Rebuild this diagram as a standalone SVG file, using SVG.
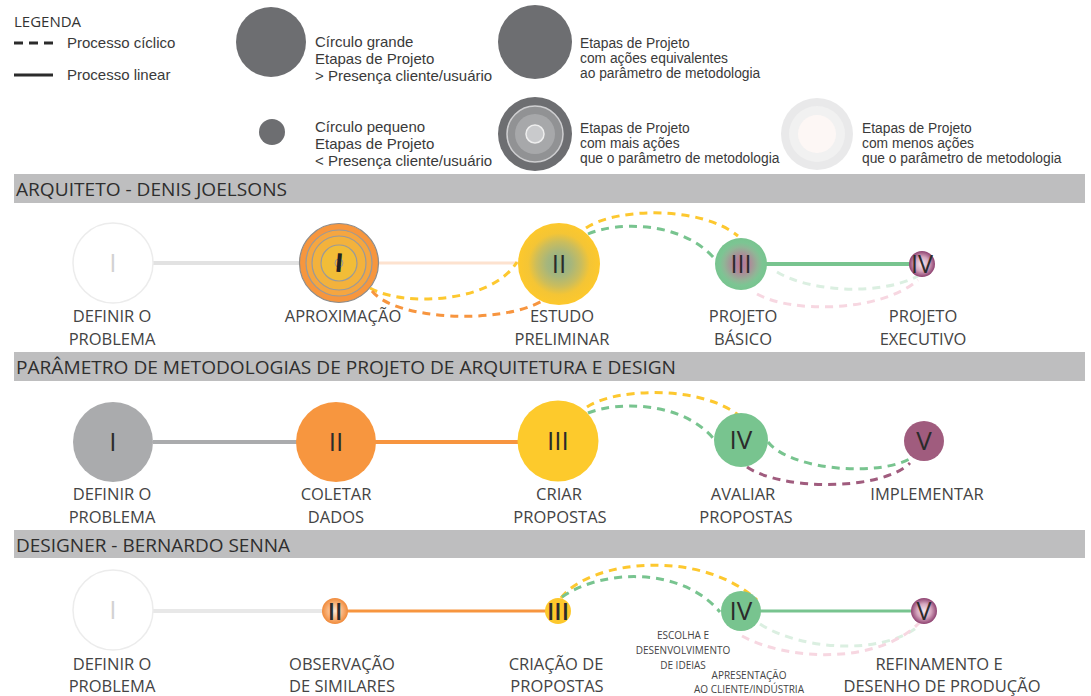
<svg xmlns="http://www.w3.org/2000/svg" width="1091" height="696" viewBox="0 0 1091 696">
<defs>
<style>
.leg{font-family:"Liberation Sans",Arial,sans-serif;font-size:15px;fill:#3a3a3a}
.legs{font-family:"Liberation Sans",Arial,sans-serif;font-size:13.8px;fill:#3a3a3a}
.hdr{font-family:"Open Sans",sans-serif;font-size:18px;fill:#2e2e2e}
.lbl{font-family:"Open Sans",sans-serif;font-size:16.5px;fill:#444;text-anchor:middle}
.sm{font-family:"Open Sans",sans-serif;font-size:10px;fill:#444;text-anchor:middle}
.num{font-family:"Open Sans",sans-serif;fill:#2b2b2b;text-anchor:middle}
.dash{fill:none;stroke-width:3;stroke-dasharray:8 6}
.bar{fill:#bebebf}
</style>
<radialGradient id="gII1"><stop offset="0" stop-color="#8fb387"/><stop offset="0.3" stop-color="#a6b67c"/><stop offset="0.55" stop-color="#cbbd5c"/><stop offset="0.75" stop-color="#f4c535"/><stop offset="1" stop-color="#fdc82c"/></radialGradient>
<radialGradient id="gIII1"><stop offset="0" stop-color="#b87799"/><stop offset="0.35" stop-color="#ac8c98"/><stop offset="0.65" stop-color="#90b696"/><stop offset="0.82" stop-color="#7cc593"/><stop offset="1" stop-color="#78c48f"/></radialGradient>
<radialGradient id="gPur"><stop offset="0" stop-color="#f6e8ef"/><stop offset="0.55" stop-color="#d5a6be"/><stop offset="1" stop-color="#8e4170"/></radialGradient>
<radialGradient id="gOr"><stop offset="0" stop-color="#fce6d3"/><stop offset="0.6" stop-color="#f8b27a"/><stop offset="1" stop-color="#f08a3a"/></radialGradient>
</defs>
<rect width="1091" height="696" fill="#ffffff"/>

<g id="legend">
<text x="14" y="27" style="font-family:'Open Sans',sans-serif;font-size:15px;fill:#333">LEGENDA</text>
<line x1="14" y1="43" x2="53" y2="43" stroke="#2b2b2b" stroke-width="3" stroke-dasharray="9 6"/>
<text class="leg" x="67" y="48">Processo cíclico</text>
<line x1="14" y1="75" x2="53" y2="75" stroke="#2b2b2b" stroke-width="3"/>
<text class="leg" x="67" y="80">Processo linear</text>
<circle cx="271" cy="42" r="35" fill="#6d6e71"/>
<text class="leg" x="315" y="47">Círculo grande</text>
<text class="leg" x="315" y="64">Etapas de Projeto</text>
<text class="leg" x="315" y="81">&gt; Presença cliente/usuário</text>
<circle cx="272" cy="132" r="13" fill="#6d6e71"/>
<text class="leg" x="315" y="132">Círculo pequeno</text>
<text class="leg" x="315" y="149">Etapas de Projeto</text>
<text class="leg" x="315" y="166">&lt; Presença cliente/usuário</text>
<circle cx="535" cy="42" r="37" fill="#6d6e71"/>
<text class="legs" x="580" y="48">Etapas de Projeto</text>
<text class="legs" x="580" y="63">com ações equivalentes</text>
<text class="legs" x="580" y="78">ao parâmetro de metodologia</text>
<circle cx="535" cy="134" r="37" fill="#6d6e71"/>
<circle cx="535" cy="134" r="28" fill="#919294" stroke="#cfcfd1" stroke-width="1.5"/>
<circle cx="535" cy="134" r="20" fill="#a7a8aa"/>
<circle cx="535" cy="134" r="9" fill="#c9cacc" stroke="#eeeeee" stroke-width="1.5"/>
<text class="legs" x="580" y="133">Etapas de Projeto</text>
<text class="legs" x="580" y="148">com mais ações</text>
<text class="legs" x="580" y="163">que o parâmetro de metodologia</text>
<circle cx="817" cy="134" r="36" fill="#e9e9ea"/>
<circle cx="817" cy="134" r="28" fill="#f1f1f1"/>
<circle cx="817" cy="134" r="19" fill="#fdf7f5"/>
<text class="legs" x="862" y="133">Etapas de Projeto</text>
<text class="legs" x="862" y="148">com menos ações</text>
<text class="legs" x="862" y="163">que o parâmetro de metodologia</text>
</g>

<g id="headers">
<rect class="bar" x="14" y="174" width="1071" height="29"/>
<text class="hdr" x="16" y="196" textLength="271" lengthAdjust="spacingAndGlyphs">ARQUITETO - DENIS JOELSONS</text>
<rect class="bar" x="14" y="352" width="1071" height="29"/>
<text class="hdr" x="16" y="374" textLength="660" lengthAdjust="spacingAndGlyphs">PARÂMETRO DE METODOLOGIAS DE PROJETO DE ARQUITETURA E DESIGN</text>
<rect class="bar" x="14" y="530" width="1071" height="28"/>
<text class="hdr" x="16" y="552" textLength="274" lengthAdjust="spacingAndGlyphs">DESIGNER - BERNARDO SENNA</text>
</g>

<g id="connectors">
<line x1="153" y1="263" x2="300" y2="263" stroke="#e2e2e2" stroke-width="4"/>
<line x1="378" y1="263" x2="519" y2="263" stroke="#fde2cf" stroke-width="3"/>
<line x1="766" y1="264" x2="910" y2="264" stroke="#78c48f" stroke-width="4"/>
<path class="dash" stroke="#fdc82f" d="M370,288 C400,306 490,305 517,262"/>
<path class="dash" stroke="#f7953f" d="M372,291 C395,320 500,325 542,301"/>
<path class="dash" stroke="#fdc82f" d="M586,228 C615,208 700,205 738,236"/>
<path class="dash" stroke="#78c48f" d="M588,234 C615,222 680,220 714,258"/>
<path class="dash" stroke="#dbefe1" d="M777,272 C810,292 880,296 918,276"/>
<path class="dash" stroke="#f7d7e1" d="M757,294 C790,313 880,313 918,280"/>

<line x1="153" y1="442" x2="297" y2="442" stroke="#aaabad" stroke-width="4"/>
<line x1="375" y1="442" x2="519" y2="442" stroke="#f7953f" stroke-width="4"/>
<path class="dash" stroke="#fdc82f" d="M587,407 C615,388 700,385 738,415"/>
<path class="dash" stroke="#78c48f" d="M588,413 C615,402 680,400 713,438"/>
<path class="dash" stroke="#78c48f" d="M768,442 C790,470 880,478 913,457"/>
<path class="dash" stroke="#a05c7e" d="M747,467 C780,490 880,492 910,463"/>

<line x1="153" y1="611" x2="323" y2="611" stroke="#e8e8e8" stroke-width="4"/>
<line x1="347" y1="611" x2="546" y2="611" stroke="#f7953f" stroke-width="3"/>
<line x1="760" y1="611" x2="912" y2="611" stroke="#78c48f" stroke-width="3"/>
<path class="dash" stroke="#fdc82f" d="M561,598 C590,560 700,548 757,600"/>
<path class="dash" stroke="#78c48f" d="M562,597 C600,570 680,565 720,612"/>
<path class="dash" stroke="#dbefe1" d="M760,624 C800,650 880,655 916,628"/>
<path class="dash" stroke="#f7d7e1" d="M742,636 C790,662 880,664 920,622"/>
</g>

<g id="r1-definir">
<circle cx="113" cy="263" r="40" fill="#ffffff" stroke="#ececec" stroke-width="1.5"/>
<text class="num" x="113" y="272" font-size="26" style="fill:#d2d2d2">I</text>
<text class="lbl" x="112" y="322">DEFINIR O</text>
<text class="lbl" x="112" y="345">PROBLEMA</text>
</g>
<g id="r1-aproximacao">
<circle cx="339" cy="263" r="39.5" fill="#f7963d" stroke="#8c8c8c" stroke-width="1.2"/>
<circle cx="339" cy="263" r="33" fill="#f5a640" stroke="#9a9a9a" stroke-width="1.2"/>
<circle cx="339" cy="263" r="27" fill="#f3b23c" stroke="#9a9a9a" stroke-width="1.2"/>
<circle cx="339" cy="263" r="18" fill="#f2bd37" stroke="#9a9a9a" stroke-width="1.2"/>
<circle cx="339" cy="263" r="4" fill="none" stroke="#9a9a9a" stroke-width="1"/>
<text class="num" x="339" y="272" font-size="26" style="font-weight:700;fill:#222" transform="rotate(5 339 263)">I</text>
<text class="lbl" x="343" y="322">APROXIMAÇÃO</text>
</g>
<g id="r1-estudo">
<circle cx="559" cy="264" r="41" fill="url(#gII1)"/>
<text class="num" x="559" y="273" font-size="26">II</text>
<text class="lbl" x="562" y="322">ESTUDO</text>
<text class="lbl" x="562" y="345">PRELIMINAR</text>
</g>
<g id="r1-basico">
<circle cx="741" cy="264" r="26" fill="url(#gIII1)"/>
<text class="num" x="741" y="273" font-size="25">III</text>
<text class="lbl" x="743" y="322">PROJETO</text>
<text class="lbl" x="743" y="345">BÁSICO</text>
</g>
<g id="r1-executivo">
<circle cx="922" cy="264" r="13" fill="url(#gPur)"/>
<text class="num" x="922" y="273" font-size="25">IV</text>
<text class="lbl" x="923" y="322">PROJETO</text>
<text class="lbl" x="923" y="345">EXECUTIVO</text>
</g>

<g id="r2-definir">
<circle cx="113" cy="442" r="40" fill="#aaabad"/>
<text class="num" x="113" y="451" font-size="26">I</text>
<text class="lbl" x="112" y="500">DEFINIR O</text>
<text class="lbl" x="112" y="523">PROBLEMA</text>
</g>
<g id="r2-coletar">
<circle cx="336" cy="442" r="40" fill="#f7963f"/>
<text class="num" x="336" y="451" font-size="26">II</text>
<text class="lbl" x="336" y="500">COLETAR</text>
<text class="lbl" x="336" y="523">DADOS</text>
</g>
<g id="r2-criar">
<circle cx="558" cy="441" r="40.5" fill="#fdca2c"/>
<text class="num" x="558" y="450" font-size="26">III</text>
<text class="lbl" x="559" y="500">CRIAR</text>
<text class="lbl" x="560" y="523">PROPOSTAS</text>
</g>
<g id="r2-avaliar">
<circle cx="741" cy="440" r="27" fill="#78c48f"/>
<text class="num" x="741" y="449" font-size="26">IV</text>
<text class="lbl" x="743" y="500">AVALIAR</text>
<text class="lbl" x="746" y="523">PROPOSTAS</text>
</g>
<g id="r2-implementar">
<circle cx="924" cy="441" r="20" fill="#a05c7e"/>
<text class="num" x="924" y="450" font-size="26">V</text>
<text class="lbl" x="927" y="500">IMPLEMENTAR</text>
</g>

<g id="r3-definir">
<circle cx="113" cy="610" r="40" fill="#ffffff" stroke="#ececec" stroke-width="1.5"/>
<text class="num" x="113" y="619" font-size="26" style="fill:#d2d2d2">I</text>
<text class="lbl" x="112" y="670">DEFINIR O</text>
<text class="lbl" x="112" y="692">PROBLEMA</text>
</g>
<g id="r3-observacao">
<circle cx="335" cy="611" r="13" fill="url(#gOr)"/>
<text class="num" x="335" y="620" font-size="24" style="font-weight:600">II</text>
<text class="lbl" x="342" y="670">OBSERVAÇÃO</text>
<text class="lbl" x="342" y="692">DE SIMILARES</text>
</g>
<g id="r3-criacao">
<circle cx="558" cy="611" r="13" fill="#fdc82c"/>
<text class="num" x="558" y="620" font-size="24" style="font-weight:600">III</text>
<text class="lbl" x="556" y="670">CRIAÇÃO DE</text>
<text class="lbl" x="557" y="692">PROPOSTAS</text>
</g>
<g id="r3-escolha">
<circle cx="741" cy="611" r="20" fill="#78c48f"/>
<text class="num" x="741" y="620" font-size="26">IV</text>
<text class="sm" x="683" y="639">ESCOLHA E</text>
<text class="sm" x="683" y="654">DESENVOLVIMENTO</text>
<text class="sm" x="683" y="669">DE IDEIAS</text>
<text class="sm" x="749" y="679">APRESENTAÇÃO</text>
<text class="sm" x="749" y="693">AO CLIENTE/INDÚSTRIA</text>
</g>
<g id="r3-refinamento">
<circle cx="924" cy="611" r="13" fill="url(#gPur)"/>
<text class="num" x="924" y="620" font-size="25">V</text>
<text class="lbl" x="939" y="670">REFINAMENTO E</text>
<text class="lbl" x="942" y="692">DESENHO DE PRODUÇÃO</text>
</g>
</svg>
